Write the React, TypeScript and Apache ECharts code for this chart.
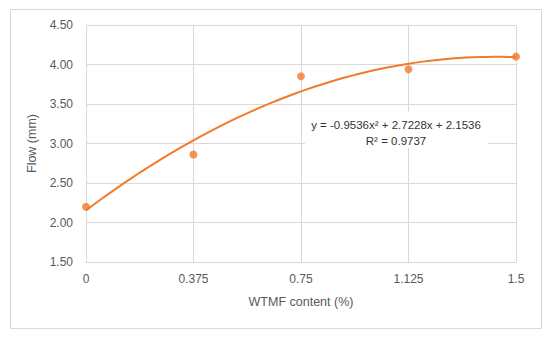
import React, { useEffect, useRef } from "react";
import * as echarts from "echarts";

const xValues = [0, 0.375, 0.75, 1.125, 1.5];
const flowValues = [2.2, 2.86, 3.85, 3.94, 4.1];
// Trendline coefficients as printed on the chart: y = a x^2 + b x + c
const trendCoefficients = [-0.9536, 2.7228, 2.1536];
const equationText = "y = -0.9536x² + 2.7228x + 2.1536";
const r2Text = "R² = 0.9737";
const xAxisName = "WTMF content (%)";
const yAxisName = "Flow (mm)";

const ORANGE = "#F27A2A";
const GRID = "#D9D9D9";
const LABEL = "#595959";
const FONT = "Liberation Sans, Arial, sans-serif";

export default function App() {
  const ref = useRef<HTMLDivElement>(null);
  useEffect(() => {
    if (!ref.current) return;
    const chart = echarts.init(ref.current, undefined, { renderer: "svg" });
    const [a, b, c] = trendCoefficients;
    const trend: number[][] = [];
    const n = 60;
    for (let i = 0; i <= n; i++) {
      const x = (1.5 * i) / n;
      trend.push([x, a * x * x + b * x + c]);
    }
    chart.setOption({
      animation: false,
      backgroundColor: "#fff",
      textStyle: { fontFamily: FONT },
      grid: { left: 86, right: 34, top: 25, bottom: 78, containLabel: false },
      xAxis: {
        type: "value",
        min: 0,
        max: 1.5,
        interval: 0.375,
        name: xAxisName,
        nameLocation: "middle",
        nameGap: 33,
        nameTextStyle: { color: LABEL, fontSize: 12.5, fontFamily: FONT },
        axisLine: { show: true, lineStyle: { color: GRID, width: 1 } },
        axisTick: { show: false },
        axisLabel: { color: LABEL, fontSize: 12, margin: 11, fontFamily: FONT },
        splitLine: { show: true, lineStyle: { color: GRID, width: 1 } },
      },
      yAxis: {
        type: "value",
        min: 1.5,
        max: 4.5,
        interval: 0.5,
        name: yAxisName,
        nameLocation: "middle",
        nameGap: 43,
        nameTextStyle: { color: LABEL, fontSize: 12.5, fontFamily: FONT },
        axisLine: { show: true, lineStyle: { color: GRID, width: 1 } },
        axisTick: { show: false },
        axisLabel: {
          color: LABEL,
          fontSize: 12,
          margin: 13,
          fontFamily: FONT,
          formatter: (v: number) => v.toFixed(2),
        },
        splitLine: { show: true, lineStyle: { color: GRID, width: 1 } },
      },
      series: [
        {
          type: "line",
          data: trend,
          showSymbol: false,
          symbol: "none",
          smooth: false,
          lineStyle: { color: ORANGE, width: 2 },
          z: 2,
        },
        {
          type: "scatter",
          data: xValues.map((x, i) => [x, flowValues[i]]),
          symbolSize: 8,
          itemStyle: { color: ORANGE },
          z: 3,
        },
      ],
      graphic: [
        {
          type: "rect",
          shape: { x: 10.5, y: 9.5, width: 531, height: 319 },
          style: { fill: "none", stroke: GRID, lineWidth: 1 },
          silent: true,
        },
        {
          type: "rect",
          shape: { x: 305, y: 112, width: 183, height: 36 },
          style: { fill: "#fff" },
          z: 10,
          silent: true,
        },
        {
          type: "text",
          x: 396,
          y: 125,
          z: 11,
          style: {
            text: equationText,
            fill: "#333333",
            font: `11.5px ${FONT}`,
            align: "center",
            verticalAlign: "middle",
          },
        },
        {
          type: "text",
          x: 396,
          y: 141,
          z: 11,
          style: {
            text: r2Text,
            fill: "#333333",
            font: `11.5px ${FONT}`,
            align: "center",
            verticalAlign: "middle",
          },
        },
      ],
    });
    return () => chart.dispose();
  }, []);
  return (
    <div
      ref={ref}
      style={{ position: "fixed", left: 0, top: 0, width: 550, height: 340 }}
    />
  );
}
